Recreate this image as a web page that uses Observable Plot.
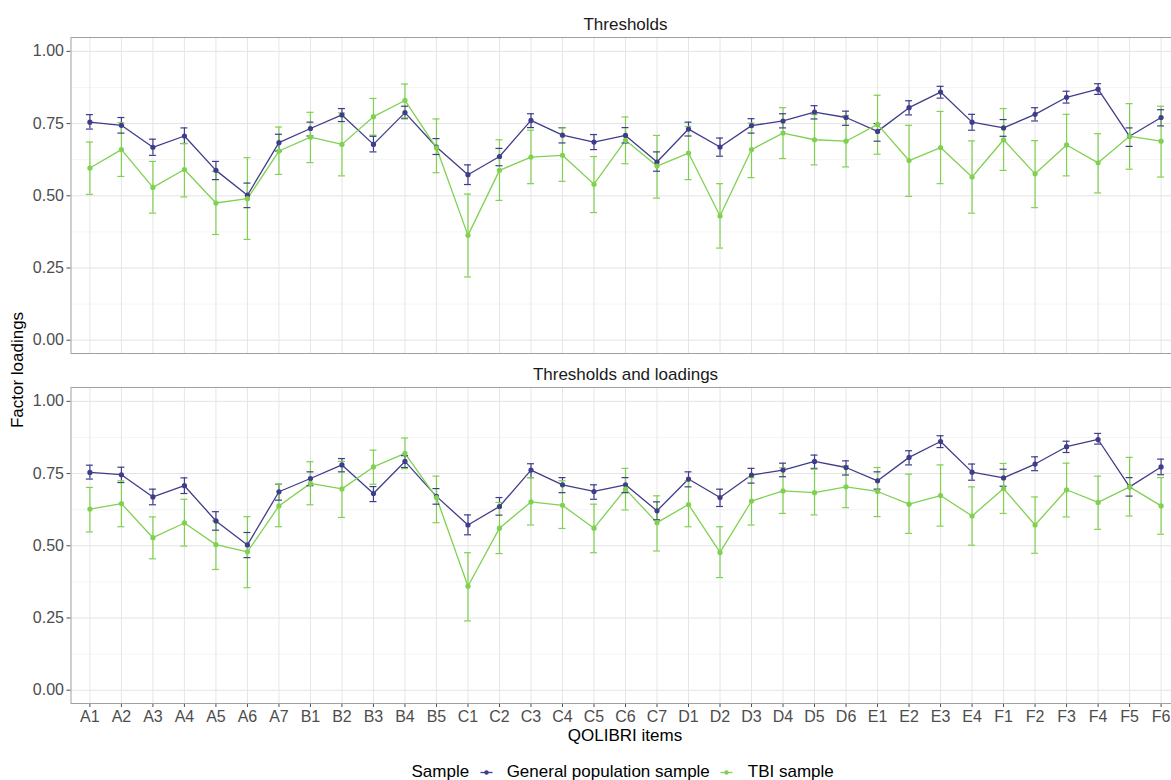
<!DOCTYPE html>
<html>
<head>
<meta charset="utf-8">
<script src="https://cdn.jsdelivr.net/npm/d3@7"></script>
<script src="https://cdn.jsdelivr.net/npm/@observablehq/plot@0.6"></script>
<style>
  html, body { margin: 0; padding: 0; background: #fff; overflow: hidden; }
  #wrap { position: relative; width: 1171px; height: 780px; overflow: hidden; font-family: "Liberation Sans", Arial, sans-serif; }
  #chart svg { max-width: none !important; display: block; }
  .title { position: absolute; color: #000; font-size: 17px; line-height: 20px; white-space: nowrap; }
  #legend { position: absolute; left: 411.5px; top: 762px; display: flex; align-items: center; font-size: 17px; line-height: 20px; color: #000; white-space: nowrap; }
</style>
</head>
<body>
<div id="wrap">
  <div id="chart"></div>
  <div class="title" style="left:425px; width:400px; text-align:center; top:726px;">QOLIBRI items</div>
  <div class="title" style="left:18px; top:370px; transform: translate(-50%,-50%) rotate(-90deg);">Factor loadings</div>
  <div id="legend"></div>
</div>
<script>
// ---- data ----
const items = ["A1","A2","A3","A4","A5","A6","A7","B1","B2","B3","B4","B5","C1","C2","C3","C4","C5","C6","C7","D1","D2","D3","D4","D5","D6","E1","E2","E3","E4","F1","F2","F3","F4","F5","F6"];
const facets = ["Thresholds", "Thresholds and loadings"];
const samples = ["General population sample", "TBI sample"];
const colors = ["#3F3D8B", "#80D152"];
const majorTicks = [0, 0.25, 0.5, 0.75, 1];
const minorTicks = [0.125, 0.375, 0.625, 0.875];

// Thresholds — General population sample
const thrGen   = [.755,.744,.668,.707,.588,.502,.684,.733,.780,.678,.788,.669,.573,.636,.761,.710,.686,.709,.617,.731,.669,.743,.759,.790,.771,.723,.805,.859,.755,.735,.782,.841,.869,.706,.771];
const thrGenLo = [.731,.717,.640,.681,.556,.459,.655,.707,.757,.652,.767,.643,.539,.604,.736,.683,.660,.683,.585,.707,.637,.717,.735,.766,.744,.689,.780,.838,.727,.706,.759,.821,.851,.671,.742];
const thrGenHi = [.781,.771,.696,.735,.619,.544,.713,.755,.802,.706,.810,.698,.607,.664,.784,.736,.712,.736,.652,.755,.700,.767,.784,.812,.793,.750,.829,.879,.782,.764,.805,.862,.888,.735,.798];
// Thresholds — TBI sample
const thrTbi   = [.596,.660,.529,.591,.475,.490,.655,.703,.678,.774,.830,.666,.363,.588,.634,.640,.540,.692,.603,.648,.430,.660,.717,.694,.689,.747,.622,.667,.565,.694,.576,.676,.614,.706,.689];
const thrTbiLo = [.505,.567,.440,.496,.366,.349,.574,.615,.569,.710,.770,.580,.219,.484,.542,.550,.442,.611,.492,.556,.319,.563,.629,.607,.600,.644,.498,.542,.440,.588,.459,.569,.510,.592,.565];
const thrTbiHi = [.686,.753,.619,.681,.584,.632,.738,.789,.787,.837,.887,.766,.506,.694,.727,.735,.636,.773,.709,.740,.542,.752,.805,.781,.778,.848,.744,.792,.690,.802,.691,.782,.715,.819,.810];
// Thresholds and loadings — General population sample
const tlGen   = [.754,.746,.669,.708,.586,.503,.687,.733,.780,.681,.792,.671,.572,.636,.762,.711,.688,.711,.621,.731,.667,.745,.762,.792,.771,.725,.806,.861,.755,.735,.783,.843,.868,.704,.773];
const tlGenLo = [.731,.719,.642,.681,.554,.459,.658,.708,.756,.653,.771,.644,.538,.606,.736,.684,.661,.684,.590,.704,.636,.717,.739,.768,.745,.696,.780,.840,.727,.706,.760,.823,.852,.672,.746];
const tlGenHi = [.779,.772,.696,.735,.618,.546,.713,.756,.802,.705,.812,.698,.607,.667,.784,.736,.711,.736,.652,.756,.696,.768,.786,.814,.794,.756,.829,.881,.783,.765,.808,.862,.889,.736,.800];
// Thresholds and loadings — TBI sample
const tlTbi   = [.627,.646,.528,.579,.504,.479,.638,.716,.697,.773,.820,.667,.360,.561,.652,.640,.561,.696,.580,.643,.477,.655,.690,.684,.704,.688,.644,.674,.603,.698,.572,.694,.650,.704,.638];
const tlTbiLo = [.548,.566,.455,.499,.418,.355,.566,.642,.598,.713,.767,.580,.240,.473,.572,.560,.476,.624,.482,.566,.390,.572,.612,.607,.632,.601,.543,.568,.502,.612,.474,.600,.557,.603,.540];
const tlTbiHi = [.702,.725,.600,.661,.586,.601,.713,.791,.792,.831,.873,.741,.476,.650,.736,.725,.644,.768,.673,.725,.566,.736,.770,.765,.777,.771,.748,.780,.704,.785,.669,.786,.741,.806,.736];

const series = [
  [facets[0], samples[0], thrGen, thrGenLo, thrGenHi],
  [facets[0], samples[1], thrTbi, thrTbiLo, thrTbiHi],
  [facets[1], samples[0], tlGen, tlGenLo, tlGenHi],
  [facets[1], samples[1], tlTbi, tlTbiLo, tlTbiHi]
];
const rows = [];
for (const s of samples) {
  for (const [facet, sample, v, lo, hi] of series) {
    if (sample !== s) continue;
    items.forEach((item, i) => rows.push({item, facet, sample, value: v[i], lo: lo[i], hi: hi[i]}));
  }
}

const common = {x: "item", fy: "facet", stroke: "sample"};
const chart = Plot.plot({
  width: 1180,
  height: 750,
  marginLeft: 70.5,
  marginRight: 0.5,
  marginTop: 37,
  marginBottom: 47,
  style: {fontFamily: "'Liberation Sans', Arial, sans-serif", fontSize: "16px", color: "#4d4d4d", background: "white", overflow: "visible"},
  x: {type: "band", domain: items, paddingInner: 0.778, paddingOuter: 0.489, round: false, label: null, tickSize: 4, tickPadding: 3},
  y: {domain: [-0.046, 1.048], ticks: majorTicks, tickFormat: d3.format(".2f"), label: null, tickSize: 4, tickPadding: 3},
  fy: {domain: facets, paddingInner: 0.0971, paddingOuter: 0, round: false, axis: null, label: null},
  color: {domain: samples, range: colors},
  marks: [
    Plot.ruleY(minorTicks, {stroke: "#f2f2f2", strokeWidth: 0.8}),
    Plot.ruleY(majorTicks, {stroke: "#e3e3e3", strokeWidth: 1}),
    Plot.ruleX(items, {x: d => d, stroke: "#e6e6e6", strokeWidth: 1}),
    Plot.frame({stroke: "#a0a0a0", strokeWidth: 1}),
    Plot.text(facets, {fy: d => d, text: d => d, frameAnchor: "top", lineAnchor: "middle", dy: -12.5, fontSize: 17, fill: "#1a1a1a"}),
    Plot.line(rows, {...common, y: "value", z: "sample", strokeWidth: 1.3}),
    Plot.ruleX(rows, {...common, y1: "lo", y2: "hi", strokeWidth: 1.2}),
    Plot.tickY(rows, {...common, y: "lo", strokeWidth: 1.2}),
    Plot.tickY(rows, {...common, y: "hi", strokeWidth: 1.2}),
    Plot.dot(rows, {x: "item", fy: "facet", y: "value", fill: "sample", r: 2.6})
  ]
});
chart.style.maxWidth = "none";
document.getElementById("chart").appendChild(chart);

// legend
const legend = document.getElementById("legend");
const lab = document.createElement("span");
lab.textContent = "Sample";
legend.appendChild(lab);
samples.forEach((s, i) => {
  const ns = "http://www.w3.org/2000/svg";
  const g = document.createElementNS(ns, "svg");
  g.setAttribute("width", 17); g.setAttribute("height", 17);
  g.style.margin = i === 0 ? "0 11.5px 0 9px" : "0 12.5px 0 8.5px";
  const l = document.createElementNS(ns, "line");
  l.setAttribute("x1", 2.5); l.setAttribute("x2", 14.5); l.setAttribute("y1", 8.5); l.setAttribute("y2", 8.5);
  l.setAttribute("stroke", colors[i]); l.setAttribute("stroke-width", 1.3);
  const c = document.createElementNS(ns, "circle");
  c.setAttribute("cx", 8.5); c.setAttribute("cy", 8.5); c.setAttribute("r", 2.2); c.setAttribute("fill", colors[i]);
  g.appendChild(l); g.appendChild(c);
  legend.appendChild(g);
  const t = document.createElement("span");
  t.textContent = s;
  legend.appendChild(t);
});
</script>
</body>
</html>
